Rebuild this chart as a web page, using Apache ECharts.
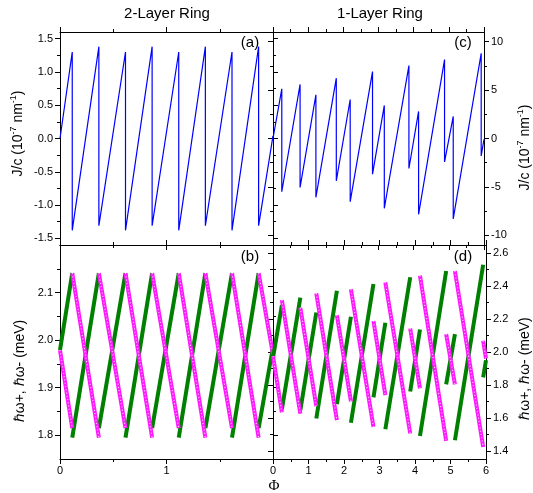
<!DOCTYPE html>
<html>
<head>
<meta charset="utf-8">
<script src="https://cdn.jsdelivr.net/npm/echarts@6/dist/echarts.min.js"></script>
<style>
  html, body { margin: 0; padding: 0; background: #fff; }
  #chart { width: 533px; height: 493px; }
</style>
</head>
<body>
<div id="chart"></div>
<script>
// ---------- 2-layer ring: persistent current J/c (10^-7 nm^-1) ----------
const jumps2L   = [0.115, 0.365, 0.615, 0.865, 1.115, 1.365, 1.615, 1.865];
const jStart2L  = 0.0;
const jBefore2L = [1.30, 1.38, 1.30, 1.38, 1.30, 1.38, 1.30, 1.38];
const jAfter2L  = [-1.38, -1.31, -1.38, -1.31, -1.38, -1.31, -1.38, -1.31];
const jEnd2L    = 0.04;

// 2-layer ring: hbar omega+ (green) and hbar omega- (magenta), meV
const wpStart2L  = 1.979;
const wpBefore2L = [2.141, 2.141, 2.141, 2.141, 2.141, 2.141, 2.141, 2.141];
const wpAfter2L  = [1.795, 1.815, 1.795, 1.815, 1.795, 1.815, 1.795, 1.815];
const wpEnd2L    = 1.985;
const wmStart2L  = 1.979;
const wmBefore2L = [1.815, 1.795, 1.815, 1.795, 1.815, 1.795, 1.815, 1.795];
const wmAfter2L  = [2.141, 2.141, 2.141, 2.141, 2.141, 2.141, 2.141, 2.141];
const wmEnd2L    = 1.970;

// ---------- 1-layer ring ----------
const jumps1L   = [0.25, 0.77, 1.22, 1.80, 2.195, 2.83, 3.165, 3.865, 4.14, 4.878, 5.125, 5.92];
const jStart1L  = 0.0;
const jBefore1L = [5.13, 5.58, 4.51, 6.23, 4.03, 6.91, 3.42, 7.53, 2.80, 8.15, 2.28, 8.80];
const jAfter1L  = [-5.50, -5.05, -6.08, -4.37, -6.53, -3.68, -7.21, -3.10, -7.83, -2.42, -8.31, -1.80];
const jEnd1L    = -0.10;

const wpStart1L  = 1.965;
const wpBefore1L = [2.285, 2.330, 2.240, 2.372, 2.214, 2.413, 2.178, 2.454, 2.137, 2.492, 2.109, 2.530];
const wpAfter1L  = [1.651, 1.647, 1.596, 1.683, 1.570, 1.724, 1.531, 1.760, 1.490, 1.803, 1.464, 1.846];
const wpEnd1L    = 1.950;
const wmStart1L  = 1.975;
const wmBefore1L = [1.633, 1.626, 1.671, 1.586, 1.700, 1.545, 1.738, 1.505, 1.779, 1.460, 1.803, 1.423];
const wmAfter1L  = [2.316, 2.269, 2.356, 2.224, 2.381, 2.188, 2.423, 2.143, 2.464, 2.109, 2.492, 2.068];
const wmEnd1L    = 1.960;

// ---------- tick labels and tick positions ----------
const phiLabels2L = [0, 1];
const phiMajor2L  = [0, 1, 2];
const phiMinor2L  = [0.5, 1.5];
const phiLabels1L = [0, 1, 2, 3, 4, 5, 6];
const phiMajor1L  = [0, 1, 2, 3, 4, 5, 6];
const phiMinor1L  = [0.5, 1.5, 2.5, 3.5, 4.5, 5.5];

const jTicks2L  = [-1.5, -1.0, -0.5, 0.0, 0.5, 1.0, 1.5];
const jMinor2L  = [-1.25, -0.75, -0.25, 0.25, 0.75, 1.25];
const wTicks2L  = [1.8, 1.9, 2.0, 2.1];
const wMinor2L  = [1.85, 1.95, 2.05, 2.15];
const jTicks1L  = [-10, -5, 0, 5, 10];
const jMinor1L  = [-7.5, -2.5, 2.5, 7.5];
const wTicks1L  = [1.4, 1.6, 1.8, 2.0, 2.2, 2.4, 2.6];
const wMinor1L  = [1.5, 1.7, 1.9, 2.1, 2.3, 2.5];

const FONT = '"Liberation Sans", Arial, Helvetica, sans-serif';

// Sawtooth with vertical drops (current traces)
function connected(start, jumps, before, after, end, xEnd) {
  const pts = [[0, start]];
  jumps.forEach((p, i) => { pts.push([p, before[i]]); pts.push([p, after[i]]); });
  pts.push([xEnd, end]);
  return pts;
}
// Separate straight pieces between jumps (energy branches)
function broken(start, jumps, before, after, end, xEnd) {
  const pts = [[0, start]];
  jumps.forEach((p, i) => { pts.push([p, before[i]]); pts.push([p, '-']); pts.push([p, after[i]]); });
  pts.push([xEnd, end]);
  return pts;
}

const grids = [
  { left: 60,  top: 32,  width: 213, height: 213 },  // (a)
  { left: 60,  top: 245, width: 213, height: 214 },  // (b)
  { left: 273, top: 32,  width: 213, height: 213 },  // (c)
  { left: 273, top: 245, width: 213, height: 214 }   // (d)
];

const xAxes = [];
const yAxes = [];

function makeAxis(gridIndex, position, range, ticks, len, line, labels, fmt, margin, extra) {
  const ax = {
    type: 'value', gridIndex, position, offset: 0,
    min: range[0], max: range[1],
    axisLine: { show: line, onZero: false, lineStyle: { color: '#000', width: 1 } },
    axisTick: { show: true, inside: false, length: len, customValues: ticks,
                lineStyle: { color: '#000', width: 1 } },
    axisLabel: labels
      ? { show: true, customValues: labels, formatter: fmt, margin,
          color: '#000', fontSize: 11, fontFamily: FONT }
      : { show: false },
    splitLine: { show: false },
    minorTick: { show: false },
    minorSplitLine: { show: false }
  };
  return Object.assign(ax, extra || {});
}

// Builds a closed frame (ticks on all four sides) and returns the primary axis indices.
function frame(g, x, y) {
  const xi = xAxes.length, yi = yAxes.length;
  xAxes.push(makeAxis(g, 'bottom', x.range, x.major, 5, true, x.labels, x.fmt, 6));
  xAxes.push(makeAxis(g, 'bottom', x.range, x.minor, 3, false));
  xAxes.push(makeAxis(g, 'top', x.range, x.major, 5, true));
  xAxes.push(makeAxis(g, 'top', x.range, x.minor, 3, false));
  yAxes.push(makeAxis(g, 'left', y.range, y.major, 5, true,
    y.side === 'left' ? y.labels : null, y.fmt, 7, y.side === 'left' ? y.name : null));
  yAxes.push(makeAxis(g, 'left', y.range, y.minor, 3, false));
  yAxes.push(makeAxis(g, 'right', y.range, y.major, 5, true,
    y.side === 'right' ? y.labels : null, y.fmt, 7, y.side === 'right' ? y.name : null));
  yAxes.push(makeAxis(g, 'right', y.range, y.minor, 3, false));
  return { xi, yi };
}

const fmt0 = v => String(Math.round(v));
const fmt1 = v => Number(v).toFixed(1);

const currentName = {
  name: '{n|J/c (10}{s|-7}{n| nm}{s|-1}{n|)}',
  nameLocation: 'middle', nameRotate: 90,
  nameTextStyle: {
    fontFamily: FONT, fontSize: 14, color: '#000',
    rich: {
      n: { fontFamily: FONT, fontSize: 14, color: '#000', lineHeight: 18 },
      s: { fontFamily: FONT, fontSize: 9, color: '#000', lineHeight: 10, verticalAlign: 'top' }
    }
  }
};
const energyName = {
  name: 'ℏω+, ℏω- (meV)',
  nameLocation: 'middle', nameRotate: 90,
  nameTextStyle: { fontFamily: FONT, fontSize: 14, color: '#000' }
};

const A = frame(0,
  { range: [0, 2], major: phiMajor2L, minor: phiMinor2L, labels: null },
  { range: [-1.6, 1.6], major: jTicks2L, minor: jMinor2L, labels: jTicks2L, fmt: fmt1, side: 'left',
    name: Object.assign({}, currentName, { nameGap: 33,
      nameTextStyle: Object.assign({}, currentName.nameTextStyle, { padding: [0, 0, 0, 10] }) }) });
const B = frame(1,
  { range: [0, 2], major: phiMajor2L, minor: phiMinor2L, labels: phiLabels2L, fmt: fmt0 },
  { range: [1.75, 2.2], major: wTicks2L, minor: wMinor2L, labels: wTicks2L, fmt: fmt1, side: 'left',
    name: Object.assign({}, energyName, { nameGap: 33,
      nameTextStyle: Object.assign({}, energyName.nameTextStyle, { padding: [0, 38, 0, 0] }) }) });
const C = frame(2,
  { range: [0, 6], major: phiMajor1L, minor: phiMinor1L, labels: null },
  { range: [-11, 11], major: jTicks1L, minor: jMinor1L, labels: jTicks1L, fmt: fmt0, side: 'right',
    name: Object.assign({}, currentName, { nameGap: 32,
      nameTextStyle: Object.assign({}, currentName.nameTextStyle, { padding: [0, 18, 0, 0] }) }) });
const D = frame(3,
  { range: [0, 6], major: phiMajor1L, minor: phiMinor1L, labels: phiLabels1L, fmt: fmt0 },
  { range: [1.35, 2.65], major: wTicks1L, minor: wMinor1L, labels: wTicks1L, fmt: fmt1, side: 'right',
    name: Object.assign({}, energyName, { nameGap: 32,
      nameTextStyle: Object.assign({}, energyName.nameTextStyle, { padding: [0, 33, 0, 0] }) }) });

const BLUE = '#0000ff', GREEN = '#008000', MAGENTA = '#ff19ff';

function currentSeries(ax, data) {
  return { type: 'line', xAxisIndex: ax.xi, yAxisIndex: ax.yi, data, symbol: 'none',
           lineStyle: { color: BLUE, width: 1.2 }, animation: false, silent: true };
}
function branchSeries(ax, data, color, width) {
  return { type: 'line', xAxisIndex: ax.xi, yAxisIndex: ax.yi, data, symbol: 'none',
           connectNulls: false, lineStyle: { color, width }, animation: false, silent: true };
}
function beadSeries(ax, data) {
  return { type: 'line', xAxisIndex: ax.xi, yAxisIndex: ax.yi, data, symbol: 'none',
           connectNulls: false, animation: false, silent: true,
           lineStyle: { color: 'rgba(255,255,255,0.8)', width: 1.1, type: [1.1, 2.2] } };
}

const plus2L  = broken(wpStart2L, jumps2L, wpBefore2L, wpAfter2L, wpEnd2L, 2);
const minus2L = broken(wmStart2L, jumps2L, wmBefore2L, wmAfter2L, wmEnd2L, 2);
const plus1L  = broken(wpStart1L, jumps1L, wpBefore1L, wpAfter1L, wpEnd1L, 6);
const minus1L = broken(wmStart1L, jumps1L, wmBefore1L, wmAfter1L, wmEnd1L, 6);

const series = [
  currentSeries(A, connected(jStart2L, jumps2L, jBefore2L, jAfter2L, jEnd2L, 2)),
  currentSeries(C, connected(jStart1L, jumps1L, jBefore1L, jAfter1L, jEnd1L, 6)),
  branchSeries(B, plus2L, GREEN, 4),
  branchSeries(B, minus2L, MAGENTA, 4),
  beadSeries(B, minus2L),
  branchSeries(D, plus1L, GREEN, 4),
  branchSeries(D, minus1L, MAGENTA, 4),
  beadSeries(D, minus1L)
];

function label(text, x, y, size, family) {
  return { type: 'text', x, y, silent: true,
           style: { text, fill: '#000', font: size + 'px ' + (family || FONT),
                    align: 'center', verticalAlign: 'middle',
                    textAlign: 'center', textVerticalAlign: 'middle' } };
}

const chart = echarts.init(document.getElementById('chart'), null, { renderer: 'canvas' });
chart.setOption({
  backgroundColor: '#fff',
  animation: false,
  title: [
    { text: '2-Layer Ring', left: 167, top: 6, textAlign: 'center', padding: 0,
      textStyle: { fontFamily: FONT, fontSize: 15, fontWeight: 'normal', color: '#000' } },
    { text: '1-Layer Ring', left: 380, top: 6, textAlign: 'center', padding: 0,
      textStyle: { fontFamily: FONT, fontSize: 15, fontWeight: 'normal', color: '#000' } }
  ],
  grid: grids,
  xAxis: xAxes,
  yAxis: yAxes,
  series,
  graphic: [
    label('(a)', 250, 43, 15),
    label('(b)', 250, 257, 15),
    label('(c)', 463, 43, 15),
    label('(d)', 463, 257, 15),
    label('Φ', 274, 486, 15, '"Liberation Serif", "DejaVu Serif", serif')
  ]
});
</script>
</body>
</html>
